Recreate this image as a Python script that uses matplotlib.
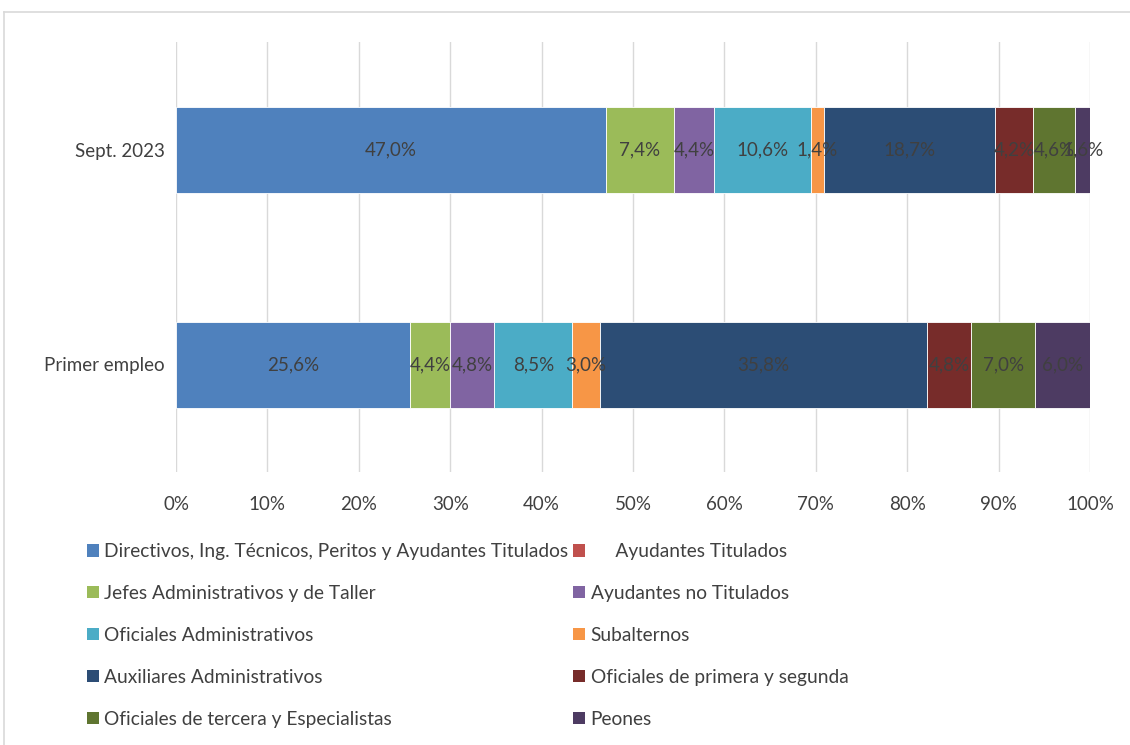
import matplotlib.pyplot as plt
from matplotlib.lines import Line2D
from matplotlib.patches import Patch
import numpy as np

plt.rcParams['font.family'] = ['Lato', 'DejaVu Sans']

categories = ['Sept. 2023', 'Primer empleo']
series = [
    'Directivos, Ing. Técnicos, Peritos y Ayudantes Titulados',
    '     Ayudantes Titulados',
    'Jefes Administrativos y de Taller',
    'Ayudantes no Titulados',
    'Oficiales Administrativos',
    'Subalternos',
    'Auxiliares Administrativos',
    'Oficiales de primera y segunda',
    'Oficiales de tercera y Especialistas',
    'Peones',
]
sept_2023 = [47.0, 0.0, 7.4, 4.4, 10.6, 1.4, 18.7, 4.2, 4.6, 1.6]
primer_empleo = [25.6, 0.0, 4.4, 4.8, 8.5, 3.0, 35.8, 4.8, 7.0, 6.0]
colors = ['#4F81BD', '#C0504D', '#9BBB59', '#8064A2', '#4BACC6',
          '#F79646', '#2C4D75', '#772C2A', '#5F7530', '#4D3B62']
xticks = np.arange(0, 101, 10)

txt = '#404040'
fs = 13.5
fig = plt.figure(figsize=(11.3, 7.45), dpi=100)
ax = fig.add_axes([176 / 1130, 1 - 472 / 745, 914 / 1130, 430 / 745])

values = np.array([sept_2023, primer_empleo])
total = values.sum(axis=1, keepdims=True)
share = values / total * 100
y = np.arange(len(categories))
left = np.zeros(len(categories))
for i, name in enumerate(series):
    bars = ax.barh(y, share[:, i], left=left, height=0.4, color=colors[i],
                   edgecolor='white', linewidth=0.6)
    for j, b in enumerate(bars):
        if values[j, i] > 0:
            ax.text(left[j] + share[j, i] / 2, y[j], f'{values[j, i]:.1f}%'.replace('.', ','),
                    ha='center', va='center', fontsize=fs, color=txt)
    left += share[:, i]

ax.set_xlim(0, 100)
ax.set_ylim(1.5, -0.5)
ax.set_yticks(y)
ax.set_yticklabels(categories, fontsize=fs, color=txt)
ax.set_xticks(xticks)
ax.set_xticklabels([f'{t}%' for t in xticks], fontsize=fs, color=txt)
ax.tick_params(axis='x', length=0, pad=17)
ax.tick_params(axis='y', length=0, pad=8)
ax.grid(axis='x', color='#D9D9D9', linewidth=1)
ax.set_axisbelow(True)
for s in ax.spines.values():
    s.set_visible(False)

# legend: row-major order across two columns
order = [0, 2, 4, 6, 8, 1, 3, 5, 7, 9]
handles = [Patch(facecolor=colors[k]) for k in order]
labels = [series[k] for k in order]
fig.legend(handles, labels, ncol=2, loc='upper left',
           bbox_to_anchor=(70 / 1130, 1 - 526 / 745), frameon=False,
           fontsize=13.8, labelcolor=txt, handlelength=0.6, handleheight=0.6,
           handletextpad=0.3, columnspacing=0.25, labelspacing=1.3)

# outer chart border
fig.add_artist(Line2D([4 / 1130, 1], [1 - 12 / 745] * 2, color='#D9D9D9', lw=1.2))
fig.add_artist(Line2D([4 / 1130] * 2, [0, 1 - 12 / 745], color='#D9D9D9', lw=1.2))

fig.savefig('out.png', dpi=100)
